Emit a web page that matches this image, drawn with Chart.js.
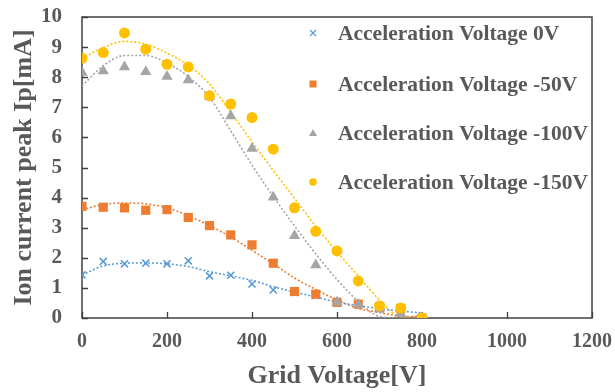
<!DOCTYPE html>
<html>
<head>
<meta charset="utf-8">
<script src="https://cdn.jsdelivr.net/npm/chart.js@4/dist/chart.umd.min.js"></script>
<style>
  html, body { margin: 0; padding: 0; background: #ffffff; }
  #wrap { width: 615px; height: 392px; }
</style>
</head>
<body>
<div id="wrap"><canvas id="c" width="615" height="392"></canvas></div>
<script>
// ---- data ----
const gridVoltage = [0, 50, 100, 150, 200, 250, 300, 350, 400, 450, 500, 550, 600, 650, 700, 750, 800];

const ionAcc0V    = [1.43, 1.88, 1.80, 1.82, 1.80, 1.90, 1.40, 1.42, 1.13, 0.93, 0.85, 0.75, 0.55, 0.45, 0.30, 0.20, 0.00];
const ionAcc50V   = [3.71, 3.68, 3.66, 3.58, 3.60, 3.34, 3.07, 2.76, 2.43, 1.82, 0.88, 0.79, 0.52, 0.46, 0.38, 0.32, 0.00];
const ionAcc100V  = [8.16, 8.21, 8.34, 8.18, 8.02, 7.91, 7.35, 6.71, 5.63, 4.01, 2.73, 1.76, 0.52, 0.45, 0.30, 0.15, 0.00];
const ionAcc150V  = [8.63, 8.82, 9.47, 8.93, 8.43, 8.34, 7.38, 7.11, 6.66, 5.61, 3.66, 2.88, 2.23, 1.23, 0.40, 0.33, 0.00];

// dotted trend curves at the same grid voltages
const trend0V   = [1.43, 1.73, 1.82, 1.83, 1.80, 1.71, 1.54, 1.40, 1.25, 1.04, 0.86, 0.70, 0.53, 0.41, 0.31, 0.23, 0.17];
const trend50V  = [3.60, 3.77, 3.82, 3.79, 3.66, 3.40, 3.07, 2.69, 2.25, 1.80, 1.33, 0.95, 0.60, 0.32, 0.18, 0.06, 0.03];
const trend100V = [7.71, 8.38, 8.72, 8.72, 8.47, 8.02, 7.33, 6.22, 5.08, 4.04, 3.06, 2.13, 1.28, 0.55, 0.05, 0.00, 0.10];
const trend150V = [8.62, 8.99, 9.19, 9.10, 8.80, 8.40, 7.78, 6.83, 5.86, 4.90, 3.98, 3.05, 2.20, 1.40, 0.60, 0.05, 0.05];

const seriesLabels = ['Acceleration Voltage 0V', 'Acceleration Voltage -50V', 'Acceleration Voltage -100V', 'Acceleration Voltage -150V'];
const xTickValues = [0, 200, 400, 600, 800, 1000, 1200];
const yTickValues = [0, 1, 2, 3, 4, 5, 6, 7, 8, 9, 10];
const xTitle = 'Grid Voltage[V]';
const yTitle = 'Ion current peak Ip[mA]';

// ---- styling ----
const COLORS = ['#5B9BD5', '#ED7D31', '#A5A5A5', '#FFC000'];
const STYLES = ['crossRot', 'rect', 'triangle', 'circle'];
const RADII  = [5, 6.5, 6.5, 5.5];
const TEXT = '#595959';
const AXIS = '#404040';
const SERIF = '"Liberation Serif", "Times New Roman", serif';

const toXY = (ys) => gridVoltage.map((x, i) => ({ x: x, y: ys[i] }));
const pointSets = [ionAcc0V, ionAcc50V, ionAcc100V, ionAcc150V];
const trendSets = [trend0V, trend50V, trend100V, trend150V];

const datasets = [];
trendSets.forEach((t, i) => {
  datasets.push({
    label: 'trend ' + seriesLabels[i],
    data: toXY(t),
    showLine: true,
    borderColor: COLORS[i],
    borderWidth: 1.6,
    borderDash: [2, 2],
    pointRadius: 0,
    cubicInterpolationMode: 'monotone',
    fill: false,
    order: 10 + i
  });
});
pointSets.forEach((p, i) => {
  datasets.push({
    label: seriesLabels[i],
    data: toXY(p),
    showLine: false,
    pointStyle: STYLES[i],
    pointRadius: RADII[i],
    backgroundColor: i === 0 ? 'rgba(0,0,0,0)' : COLORS[i],
    borderColor: COLORS[i],
    borderWidth: i === 0 ? 1.6 : 0,
    order: 4 - i
  });
});

// frame, inward tick marks and in-plot legend
const decorPlugin = {
  id: 'decor',
  beforeDatasetsDraw(chart) {
    const { ctx, chartArea: a, scales } = chart;
    ctx.save();
    ctx.strokeStyle = AXIS;
    ctx.lineWidth = 1.5;
    ctx.strokeRect(a.left, a.top, a.right - a.left, a.bottom - a.top);
    ctx.lineWidth = 1.3;
    ctx.beginPath();
    yTickValues.forEach(v => {
      const y = Math.round(scales.y.getPixelForValue(v)) + 0.5;
      ctx.moveTo(a.left, y); ctx.lineTo(a.left + 6, y);
    });
    xTickValues.forEach(v => {
      const x = Math.round(scales.x.getPixelForValue(v)) + 0.5;
      ctx.moveTo(x, a.bottom); ctx.lineTo(x, a.bottom - 6);
    });
    ctx.stroke();
    ctx.restore();
  },
  afterDraw(chart) {
    const { ctx } = chart;
    const mx = 313, tx = 338;
    const rows = [33, 84, 133, 182];
    ctx.save();
    ctx.font = 'bold 21.5px ' + SERIF;
    ctx.textBaseline = 'middle';
    ctx.textAlign = 'left';
    seriesLabels.forEach((lab, i) => {
      const y = rows[i];
      ctx.fillStyle = COLORS[i];
      ctx.strokeStyle = COLORS[i];
      ctx.lineWidth = 1.2;
      ctx.beginPath();
      if (i === 0) {
        ctx.moveTo(mx - 3, y - 3); ctx.lineTo(mx + 3, y + 3);
        ctx.moveTo(mx + 3, y - 3); ctx.lineTo(mx - 3, y + 3);
        ctx.stroke();
      } else if (i === 1) {
        ctx.fillRect(mx - 3.5, y - 3.5, 7, 7);
      } else if (i === 2) {
        ctx.moveTo(mx, y - 4); ctx.lineTo(mx + 4, y + 3); ctx.lineTo(mx - 4, y + 3); ctx.closePath(); ctx.fill();
      } else {
        ctx.arc(mx, y, 3.8, 0, Math.PI * 2); ctx.fill();
      }
      ctx.fillStyle = TEXT;
      ctx.fillText(lab, tx, y + 1);
    });
    ctx.restore();
  }
};

new Chart(document.getElementById('c'), {
  type: 'scatter',
  data: { datasets: datasets },
  plugins: [decorPlugin],
  options: {
    responsive: false,
    devicePixelRatio: 1,
    animation: false,
    layout: { padding: { top: 17, right: 23, left: 0, bottom: 0 } },
    plugins: { legend: { display: false }, tooltip: { enabled: false } },
    scales: {
      x: {
        type: 'linear', min: 0, max: 1200,
        afterFit: (s) => { s.height = 74; s.paddingLeft = 0; s.paddingRight = 0; },
        afterBuildTicks: (s) => { s.ticks = xTickValues.map(v => ({ value: v })); },
        grid: { display: false, drawTicks: false },
        border: { display: false },
        ticks: { color: TEXT, font: { family: SERIF, size: 20, weight: 'bold' }, padding: 12, maxRotation: 0, callback: (v) => String(v) },
        title: { display: true, text: xTitle, color: TEXT, font: { family: SERIF, size: 26, weight: 'bold' }, padding: { top: 0, bottom: 0 } }
      },
      y: {
        type: 'linear', min: 0, max: 10,
        afterFit: (s) => { s.width = 82; s.paddingTop = 0; s.paddingBottom = 0; },
        afterBuildTicks: (s) => { s.ticks = yTickValues.map(v => ({ value: v })); },
        grid: { display: false, drawTicks: false },
        border: { display: false },
        ticks: { color: TEXT, font: { family: SERIF, size: 21, weight: 'bold' }, padding: 20, callback: (v) => String(v) },
        title: { display: true, text: yTitle, color: TEXT, font: { family: SERIF, size: 26, weight: 'bold' }, padding: { top: 9, bottom: 0 } }
      }
    }
  }
});
</script>
</body>
</html>
